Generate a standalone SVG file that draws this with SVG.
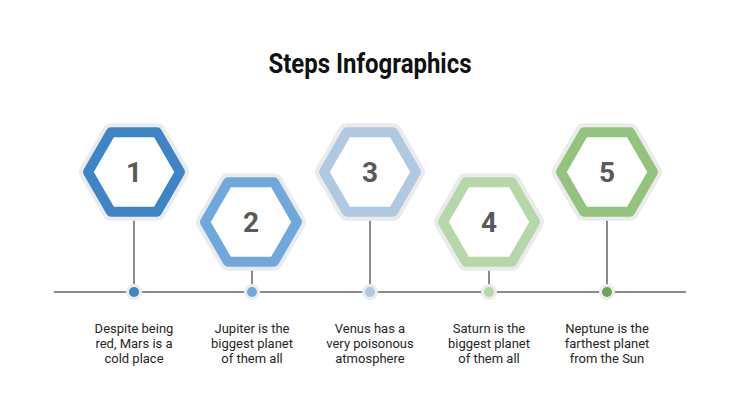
<svg xmlns="http://www.w3.org/2000/svg" xmlns:xlink="http://www.w3.org/1999/xlink" width="740" height="416" viewBox="0 0 740 416">
<style>
.halo{fill:none;stroke:#ebebeb;stroke-width:18;stroke-linejoin:round}
.band{fill:#fff;stroke-width:10;stroke-linejoin:round}
.num{font-family:Roboto,"Liberation Sans",sans-serif;font-weight:700;font-size:28px;fill:#595959;text-anchor:middle}
.desc{font-family:Roboto,"Liberation Sans",sans-serif;font-size:13px;fill:#262626;text-anchor:middle}
.conn{stroke:#666;stroke-width:1.5;fill:none}
.dh{fill:#ececec}
</style>
<defs>
<polygon id="hex" points="46,0 23,39.8 -23,39.8 -46,0 -23,-39.8 23,-39.8"/>
</defs>
<rect width="740" height="416" fill="#fff"/>
<text x="370" y="73" font-family="Roboto,'Liberation Sans',sans-serif" font-weight="700" font-size="27" fill="#111" text-anchor="middle" textLength="203" lengthAdjust="spacingAndGlyphs">Steps Infographics</text>
<g id="connectors">
<line class="conn" x1="54" y1="292" x2="686" y2="292"/>
<line class="conn" x1="134" y1="217" x2="134" y2="292"/>
<line class="conn" x1="252" y1="267" x2="252" y2="292"/>
<line class="conn" x1="370" y1="217" x2="370" y2="292"/>
<line class="conn" x1="489" y1="267" x2="489" y2="292"/>
<line class="conn" x1="607" y1="217" x2="607" y2="292"/>
</g>
<g id="step1">
<use xlink:href="#hex" class="halo" transform="translate(134,172)"/>
<use xlink:href="#hex" class="band" stroke="#3d85c6" transform="translate(134,172)"/>
<text class="num" x="134" y="182">1</text>
<circle class="dh" cx="134" cy="292" r="8"/>
<circle cx="134" cy="292" r="5" fill="#3d85c6"/>
<text class="desc" x="134" y="333">Despite being</text>
<text class="desc" x="134" y="348">red, Mars is a</text>
<text class="desc" x="134" y="363">cold place</text>
</g>
<g id="step2">
<use xlink:href="#hex" class="halo" transform="translate(251,222)"/>
<use xlink:href="#hex" class="band" stroke="#6fa8dc" transform="translate(251,222)"/>
<text class="num" x="251" y="232">2</text>
<circle class="dh" cx="252" cy="292" r="8"/>
<circle cx="252" cy="292" r="5" fill="#6fa8dc"/>
<text class="desc" x="252" y="333">Jupiter is the</text>
<text class="desc" x="252" y="348">biggest planet</text>
<text class="desc" x="252" y="363">of them all</text>
</g>
<g id="step3">
<use xlink:href="#hex" class="halo" transform="translate(370,172)"/>
<use xlink:href="#hex" class="band" stroke="#b0c9e3" transform="translate(370,172)"/>
<text class="num" x="370" y="182">3</text>
<circle class="dh" cx="370" cy="292" r="8"/>
<circle cx="370" cy="292" r="5" fill="#b0c9e3"/>
<text class="desc" x="370" y="333">Venus has a</text>
<text class="desc" x="370" y="348">very poisonous</text>
<text class="desc" x="370" y="363">atmosphere</text>
</g>
<g id="step4">
<use xlink:href="#hex" class="halo" transform="translate(489,222)"/>
<use xlink:href="#hex" class="band" stroke="#b6d7a8" transform="translate(489,222)"/>
<text class="num" x="489" y="232">4</text>
<circle class="dh" cx="489" cy="292" r="8"/>
<circle cx="489" cy="292" r="5" fill="#b6d7a8"/>
<text class="desc" x="489" y="333">Saturn is the</text>
<text class="desc" x="489" y="348">biggest planet</text>
<text class="desc" x="489" y="363">of them all</text>
</g>
<g id="step5">
<use xlink:href="#hex" class="halo" transform="translate(607,172)"/>
<use xlink:href="#hex" class="band" stroke="#93c47d" transform="translate(607,172)"/>
<text class="num" x="607" y="182">5</text>
<circle class="dh" cx="607" cy="292" r="8"/>
<circle cx="607" cy="292" r="5" fill="#6aa84f"/>
<text class="desc" x="607" y="333">Neptune is the</text>
<text class="desc" x="607" y="348">farthest planet</text>
<text class="desc" x="607" y="363">from the Sun</text>
</g>
</svg>
